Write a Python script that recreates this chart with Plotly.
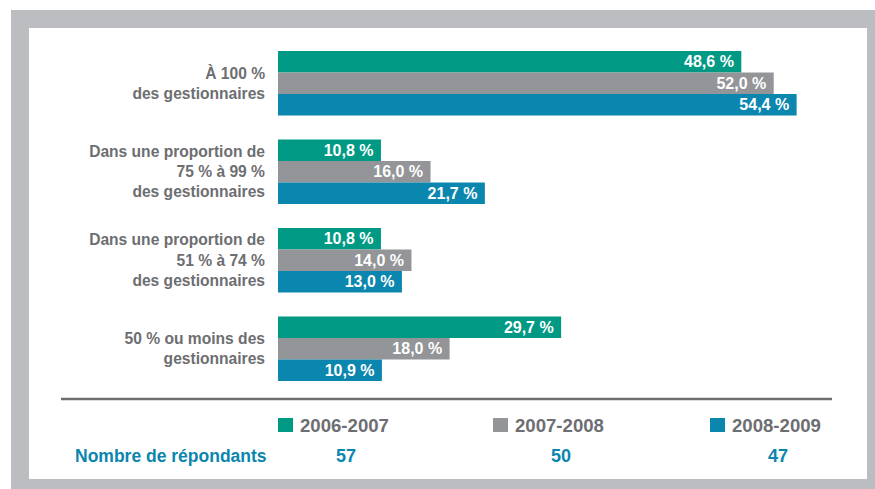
import plotly.graph_objects as go

# ---- data ----
categories = [
    "À 100 %<br>des gestionnaires",
    "Dans une proportion de<br>75 % à 99 %<br>des gestionnaires",
    "Dans une proportion de<br>51 % à 74 %<br>des gestionnaires",
    "50 % ou moins des<br>gestionnaires",
]
series_names = ["2006-2007", "2007-2008", "2008-2009"]
values_2006_2007 = [48.6, 10.8, 10.8, 29.7]
values_2007_2008 = [52.0, 16.0, 14.0, 18.0]
values_2008_2009 = [54.4, 21.7, 13.0, 10.9]
respondents_label = "Nombre de répondants"
respondents = [57, 50, 47]

series_values = [values_2006_2007, values_2007_2008, values_2008_2009]
colors = ["#009a84", "#939598", "#0b86ae"]

W, H = 875, 489
L, R, T, B = 278, 25, 39, 96
PW, PH = W - L - R, H - T - B
FONT = "Liberation Sans, Arial, sans-serif"
TXT_GRAY = "#6d6e71"
TXT_BLUE = "#0b86ae"


def px(x):
    return (x - L) / PW


def py(y):
    return (H - B - y) / PH


fig = go.Figure()
for name, vals, col in zip(series_names, series_values, colors):
    fig.add_trace(go.Bar(
        y=categories, x=vals, name=name, orientation="h",
        marker=dict(color=col, line=dict(width=0)),
        texttemplate="%{x:.1f} %\u00a0", textposition="inside",
        insidetextanchor="end",
        textfont=dict(color="white", size=16, family=FONT, weight="bold"),
        showlegend=False,
    ))

shapes = [
    dict(type="rect", xref="paper", yref="paper", x0=px(11), x1=px(890), y0=py(500), y1=py(10),
         fillcolor="#bcbdc0", line=dict(width=0), layer="below"),
    dict(type="rect", xref="paper", yref="paper", x0=px(29), x1=px(867), y0=py(479), y1=py(28),
         fillcolor="white", line=dict(width=0), layer="below"),
    dict(type="line", xref="paper", yref="paper", x0=px(61), x1=px(832), y0=py(399), y1=py(399),
         line=dict(color="#6d6e71", width=2.5)),
]
annotations = []
leg_x = [278, 493, 710]
for i, (name, col, n) in enumerate(zip(series_names, colors, respondents)):
    x0 = leg_x[i]
    shapes.append(dict(type="rect", xref="paper", yref="paper", x0=px(x0), x1=px(x0 + 15),
                       y0=py(432), y1=py(418), fillcolor=col, line=dict(width=0)))
    annotations.append(dict(xref="paper", yref="paper", x=px(x0 + 20), y=py(425), text=name,
                            showarrow=False, xanchor="left", yanchor="middle",
                            font=dict(family=FONT, size=18.6, color=TXT_GRAY, weight="bold")))
    annotations.append(dict(xref="paper", yref="paper", x=px(x0 + 68), y=py(456), text=str(n),
                            showarrow=False, xanchor="center", yanchor="middle",
                            font=dict(family=FONT, size=18, color=TXT_BLUE, weight="bold")))
annotations.append(dict(xref="paper", yref="paper", x=px(269), y=py(456), text=respondents_label,
                        showarrow=False, xanchor="right", yanchor="middle",
                        font=dict(family=FONT, size=17.5, color=TXT_BLUE, weight="bold")))

fig.update_layout(
    width=W, height=H,
    margin=dict(l=L, r=R, t=T, b=B, pad=0),
    paper_bgcolor="white", plot_bgcolor="rgba(0,0,0,0)",
    barmode="group", bargap=0.27, bargroupgap=0,
    separators=", ",
    uniformtext=dict(minsize=16, mode="show"),
    shapes=shapes, annotations=annotations,
    xaxis=dict(range=[0, 60], visible=False, fixedrange=True),
    yaxis=dict(autorange="reversed", showgrid=False, zeroline=False, showline=False,
               ticks="", ticklabelstandoff=12,
               tickfont=dict(family=FONT, size=15.6, color=TXT_GRAY, weight="bold")),
    showlegend=False,
)

fig.write_html(
    "out.html",
    config={"displayModeBar": False, "staticPlot": True},
    post_script="document.body.style.margin='0px';document.body.style.overflow='hidden';",
)
